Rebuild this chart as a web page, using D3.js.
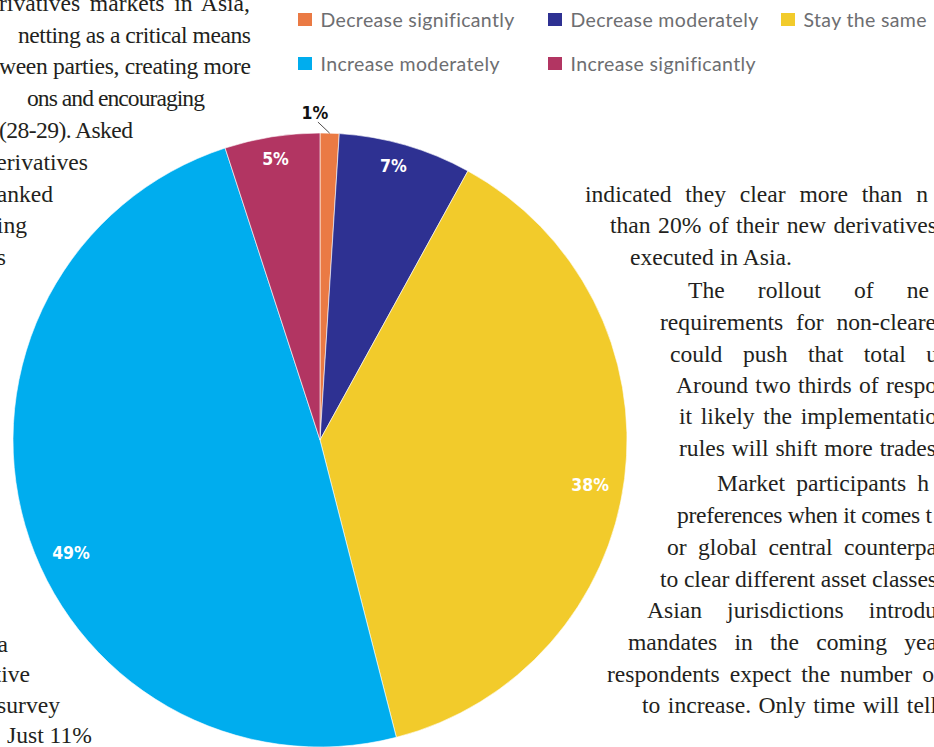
<!DOCTYPE html>
<html>
<head>
<meta charset="utf-8">
<script src="https://cdn.jsdelivr.net/npm/d3@7"></script>
<style>
  html, body { margin: 0; padding: 0; background: #fff; }
  svg { display: block; }
</style>
</head>
<body>
<svg id="chart" width="934" height="747"></svg>
<script>
// Survey answer shares, in percent, clockwise from twelve o'clock
const categories = [
  "Decrease significantly",
  "Decrease moderately",
  "Stay the same",
  "Increase moderately",
  "Increase significantly"
];
const shares = [1, 7, 38, 49, 5];
const sliceColors = ["#EA7A44", "#2E3192", "#F2CB2B", "#00ADEE", "#B23562"];

// Body copy that wraps around the pie: [text, left x, right x (justify target or null), baseline]
const leftColumn = [
  ["rivatives markets in Asia,", -1, 250, 11],
  ["netting as a critical means", 18, 251, 43],
  ["ween parties, creating more", -1, 251, 74],
  ["ons and encouraging", 27, 205, 106],
  ["(28-29). Asked", -1, 133, 138]
];
const leftTail = [
  ["erivatives", 88, 170],
  ["anked", 53, 202],
  ["ing", 27, 233],
  ["s", 6, 265],
  ["a", 8, 652],
  ["tive", 30, 682],
  ["survey", 60, 713],
  ["Just 11%", 92, 743]
];
const rightColumn = [
  ["indicated they clear more than n", 585, 928, 202],
  ["than 20% of their new derivatives", 610, 937, 233],
  ["executed in Asia.", 630, null, 265],
  ["The rollout of ne", 688, 929, 298],
  ["requirements for non-cleare", 660, 936, 330],
  ["could push that total u", 670, 938, 362],
  ["Around two thirds of respo", 676, 937, 393],
  ["it likely the implementatio", 679, 937, 424],
  ["rules will shift more trades", 679, 936, 456],
  ["Market participants h", 717, 929, 491],
  ["preferences when it comes t", 677, 932, 523],
  ["or global central counterpa", 667, 937, 555],
  ["to clear different asset classes", 660, 937, 587],
  ["Asian jurisdictions introdu", 647, 937, 618],
  ["mandates in the coming yea", 628, 937, 650],
  ["respondents expect the number o", 607, 934, 682],
  ["to increase. Only time will tell", 642, 937, 713]
];

const svg = d3.select("#chart");

// ---- body copy ----
const bodyFont = "'Liberation Serif', 'DejaVu Serif', serif";
const copy = svg.append("g")
  .attr("font-family", bodyFont)
  .attr("font-size", 23.6)
  .attr("fill", "#231F20");

// Justify a line between x0 and x1: widen word gaps, or tighten letters if too long
function justifiedLine(t, x0, x1, y) {
  const node = copy.append("text")
    .attr("x", x0).attr("y", y)
    .text(t);
  if (x1 == null) return;
  const natural = node.node().getComputedTextLength();
  const extra = x1 - x0 - natural;
  const gaps = (t.match(/ /g) || []).length;
  if (extra >= 0 && gaps > 0) {
    node.attr("word-spacing", extra / gaps);
  } else if (extra < 0) {
    node.attr("letter-spacing", extra / (t.length - 1));
  }
}
leftColumn.forEach(d => justifiedLine(...d));
rightColumn.forEach(d => justifiedLine(...d));
leftTail.forEach(([t, x, y]) => {
  copy.append("text").attr("x", x).attr("y", y)
    .attr("text-anchor", "end").text(t);
});

// ---- pie ----
const cx = 320, cy = 440, R = 307;
const pie = d3.pie().sort(null).value(d => d).startAngle(0).endAngle(2 * Math.PI);
const arcs = pie(shares);
const arc = d3.arc().innerRadius(0).outerRadius(R);

const g = svg.append("g").attr("transform", `translate(${cx},${cy})`);
g.selectAll("path.slice")
  .data(arcs)
  .join("path")
  .attr("class", "slice")
  .attr("d", arc)
  .attr("fill", (d, i) => sliceColors[i])
  .attr("stroke", "#fff")
  .attr("stroke-width", 0.6);

// ---- value labels ----
const labelFont = "'DejaVu Sans Condensed', 'DejaVu Sans', sans-serif";
const labelSize = 17.5;
const labelNudgeDeg = [0, -1.2, 2.2, -8.2, 0];   // small angular shifts to keep labels clear
const outsideLabel = 0;                            // the thin slice gets its label outside
const mid = d => (d.startAngle + d.endAngle) / 2;

function styleLabel(sel, color) {
  return sel
    .attr("text-anchor", "middle")
    .attr("dominant-baseline", "central")
    .attr("font-family", labelFont)
    .attr("font-stretch", "condensed")
    .attr("font-weight", "bold")
    .attr("font-size", labelSize)
    .attr("fill", color);
}

arcs.forEach((d, i) => {
  const txt = shares[i] + "%";
  if (i === outsideLabel) {
    const a = mid(d);
    const edge = [R * Math.sin(a), -R * Math.cos(a)];
    const la = a - 0.05, lr = R + 20;
    const lx = lr * Math.sin(la), ly = -lr * Math.cos(la);
    g.append("line")
      .attr("x1", edge[0]).attr("y1", edge[1])
      .attr("x2", lx + 4).attr("y2", ly + 9)
      .attr("stroke", "#231F20").attr("stroke-width", 0.8);
    styleLabel(g.append("text"), "#111")
      .attr("x", lx + 1).attr("y", ly)
      .text(txt);
    return;
  }
  // Inside-end placement: keep the label box a fixed gap inside the rim
  const a = mid(d) + labelNudgeDeg[i] * Math.PI / 180;
  const t = styleLabel(g.append("text"), "#fff").text(txt);
  const w = t.node().getComputedTextLength();
  const h = labelSize * 0.8;
  const reach = (w / 2) * Math.abs(Math.sin(a)) + (h / 2) * Math.abs(Math.cos(a));
  const r = R - 13.5 - reach;
  t.attr("x", r * Math.sin(a)).attr("y", -r * Math.cos(a));
});

// ---- legend ----
const legendCols = [298, 548, 781];
const legendRows = [13, 57];
const legend = svg.append("g")
  .attr("font-family", "Lato, 'Liberation Sans', sans-serif")
  .attr("font-size", 19.5)
  .attr("letter-spacing", 0.35)
  .attr("fill", "#6D6E71");
categories.forEach((c, i) => {
  const col = i < 3 ? i : i - 3;
  const row = i < 3 ? 0 : 1;
  const x = legendCols[col], y = legendRows[row];
  legend.append("rect")
    .attr("x", x).attr("y", y)
    .attr("width", 14).attr("height", 13)
    .attr("fill", sliceColors[i]);
  legend.append("text")
    .attr("x", x + 22.5).attr("y", y + 14)
    .text(c);
});
</script>
</body>
</html>
